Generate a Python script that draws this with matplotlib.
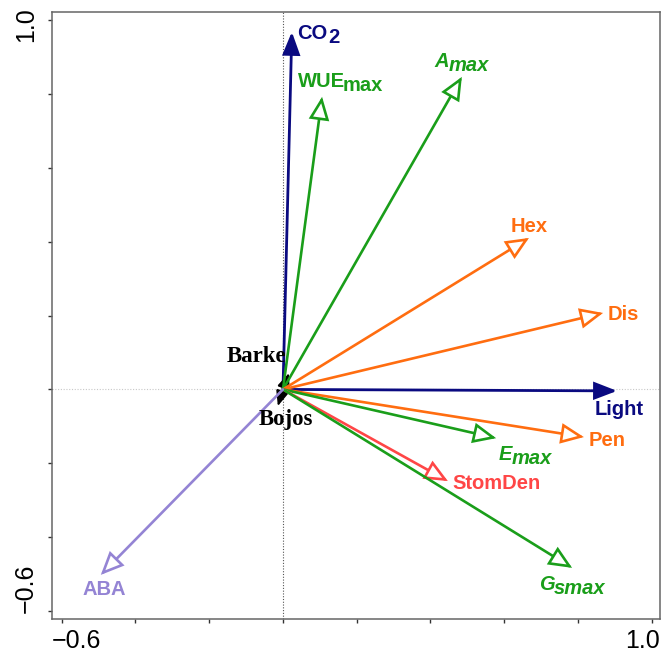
import matplotlib
matplotlib.use('Agg')
import matplotlib.pyplot as plt
from matplotlib.patches import FancyArrowPatch
from matplotlib.transforms import ScaledTranslation

# ---------------- data ----------------
var_names = ['CO2', 'Light', 'Barke', 'Bojos', 'WUEmax', 'Amax', 'Hex', 'Dis',
             'Pen', 'Emax', 'StomDen', 'Gsmax', 'ABA']
axis1 = [0.024, 0.906, 0.016, -0.014, 0.106, 0.485, 0.667, 0.868,
         0.816, 0.578, 0.447, 0.784, -0.494]
axis2 = [0.968, -0.004, 0.044, -0.045, 0.792, 0.846, 0.410, 0.207,
         -0.129, -0.132, -0.248, -0.483, -0.502]
label_base = ['CO', 'Light', 'Barke', 'Bojos', 'WUE', 'A', 'Hex', 'Dis',
              'Pen', 'E', 'StomDen', 'G', 'ABA']
label_sub = ['2', '', '', '', 'max', 'max', '', '', '', 'max', '', 'smax', '']
tick_values = [-0.6, -0.4, -0.2, 0.0, 0.2, 0.4, 0.6, 0.8, 1.0]
tick_labels = ['\u22120.6', '', '', '', '', '', '', '', '1.0']

# ---------------- styles ----------------
NAVY = '#0a0a80'
GREEN = '#1a9e1a'
ORANGE = '#ff6d10'
RED = '#ff4646'
PURPLE = '#9484d4'

style = {
    'CO2':     dict(color=NAVY, head='filled', off=(5, -7), gap=1),
    'Light':   dict(color=NAVY, head='filled', off=(-22, -24)),
    'Barke':   dict(color='black', head='small', off=(-62, 11), serif=True),
    'Bojos':   dict(color='black', head='small', off=(-19, -19), serif=True),
    'WUEmax':  dict(color=GREEN, head='open', off=(-24, 10), gap=-3),
    'Amax':    dict(color=GREEN, head='open', off=(-27, 10), italic=True, gap=-1),
    'Hex':     dict(color=ORANGE, head='open', off=(-18, 6)),
    'Dis':     dict(color=ORANGE, head='open', off=(5, -7)),
    'Pen':     dict(color=ORANGE, head='open', off=(5, -9)),
    'Emax':    dict(color=GREEN, head='open', off=(3, -22), italic=True, gap=-1),
    'StomDen': dict(color=RED, head='open', off=(5, -8)),
    'Gsmax':   dict(color=GREEN, head='open', off=(-33, -22), italic=True, gap=-1),
    'ABA':     dict(color=PURPLE, head='open', off=(-18, -20)),
}

fig = plt.figure(figsize=(6.61, 6.57), dpi=100)
ax = fig.add_axes([52 / 661, 1 - 619 / 657, 608 / 661, 607 / 657])
ax.set_xlim(-0.6264, 1.0224)
ax.set_ylim(-0.6215, 1.0217)

ax.axvline(0, color='#555555', ls=(0, (1, 1.5)), lw=0.8, zorder=1)
ax.axhline(0, color='#c8c8c8', ls=(0, (1, 1.5)), lw=0.8, zorder=1)

for name, x, y, base, sub in zip(var_names, axis1, axis2, label_base, label_sub):
    st = style[name]
    c = st['color']
    if st['head'] == 'open':
        arrowstyle = '-|>,head_length=13.5,head_width=6.0'
        fc = 'white'
        lw = 1.9
    elif st['head'] == 'filled':
        arrowstyle = '-|>,head_length=13.5,head_width=5.2'
        fc = c
        lw = 2.0
    else:
        arrowstyle = '-|>,head_length=9.5,head_width=4.0'
        fc = c
        lw = 1.2
    arr = FancyArrowPatch((0, 0), (x, y), arrowstyle=arrowstyle, mutation_scale=1,
                          shrinkA=0, shrinkB=0, lw=lw, ec=c, fc=fc, zorder=3,
                          joinstyle='miter')
    ax.add_patch(arr)

    fam = 'Liberation Serif' if st.get('serif') else 'Liberation Sans'
    fsize = 16.5 if st.get('serif') else 14.5
    fstyle = 'italic' if st.get('italic') else 'normal'
    t = ax.annotate(base, xy=(x, y), xytext=st['off'], textcoords='offset pixels',
                    ha='left', va='baseline', color=c, fontsize=fsize,
                    fontweight='bold', family=fam, fontstyle=fstyle, zorder=4)
    if sub:
        ax.annotate(sub, xy=(1, 0), xycoords=t, xytext=(st.get('gap', 0), 0),
                    textcoords='offset pixels', ha='left', va='baseline',
                    color=c, fontsize=fsize, fontweight='bold', family=fam,
                    fontstyle=fstyle, zorder=4)

for sp in ax.spines.values():
    sp.set_color('#666666')
    sp.set_linewidth(1.1)

ax.set_xticks(tick_values, tick_labels)
ax.set_yticks(tick_values, tick_labels)
ax.tick_params(direction='out', length=3, width=1, color='#333333',
               labelsize=18, labelcolor='black')
ax.tick_params(axis='x', pad=4)
ax.tick_params(axis='y', pad=7)
for lab in ax.get_xticklabels() + ax.get_yticklabels():
    lab.set_family('Liberation Sans')

xl = ax.get_xticklabels()
xl[0].set_transform(xl[0].get_transform() + ScaledTranslation(15 / 100, 0, fig.dpi_scale_trans))
xl[-1].set_transform(xl[-1].get_transform() + ScaledTranslation(-9.5 / 100, 0, fig.dpi_scale_trans))
yl = ax.get_yticklabels()
for lab in yl:
    lab.set_rotation(90)
    lab.set_va('center')
yl[0].set_transform(yl[0].get_transform() + ScaledTranslation(0, 23 / 100, fig.dpi_scale_trans))
yl[-1].set_transform(yl[-1].get_transform() + ScaledTranslation(0, -5 / 100, fig.dpi_scale_trans))

fig.savefig('out.png', dpi=100)
